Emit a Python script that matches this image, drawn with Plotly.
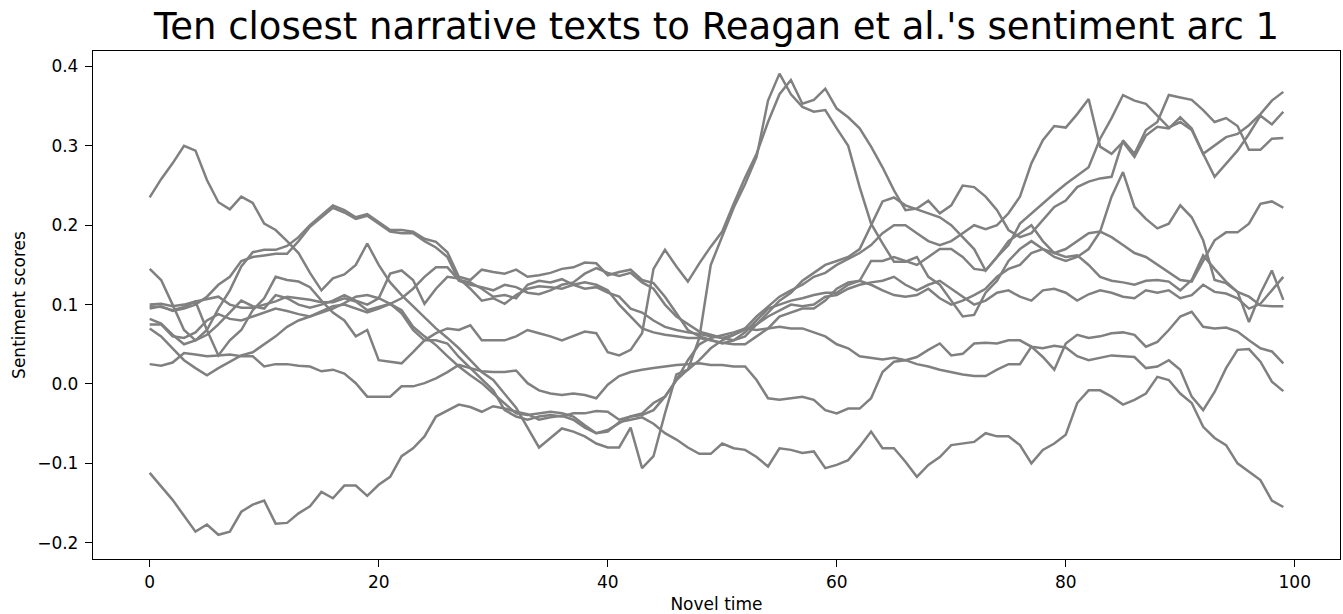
import plotly.graph_objects as go

x = list(range(100))

line1 = [0.235, 0.258, 0.278, 0.300, 0.294, 0.257, 0.229, 0.220, 0.236, 0.228,
         0.202, 0.194, 0.180, 0.165, 0.140, 0.118, 0.133, 0.138, 0.150, 0.177,
         0.150, 0.128, 0.112, 0.098, 0.085, 0.070, 0.058, 0.045, 0.030, 0.015,
         0.005, -0.012, -0.030, -0.055, -0.080, -0.068, -0.056, -0.060, -0.066, -0.075,
         -0.080, -0.080, -0.055, -0.106, -0.091, -0.037, 0.012, 0.018, 0.058, 0.150,
         0.185, 0.222, 0.252, 0.286, 0.357, 0.391, 0.365, 0.349, 0.343, 0.345,
         0.322, 0.300, 0.248, 0.202, 0.177, 0.154, 0.154, 0.160, 0.135, 0.125,
         0.105, 0.085, 0.087, 0.115, 0.130, 0.155, 0.170, 0.180, 0.170, 0.160,
         0.155, 0.160, 0.170, 0.192, 0.236, 0.267, 0.223, 0.208, 0.196, 0.202,
         0.225, 0.210, 0.181, 0.131, 0.127, 0.116, 0.110, 0.099, 0.098, 0.098]

line2 = [0.145, 0.131, 0.100, 0.068, 0.055, 0.068, 0.095, 0.118, 0.148, 0.166,
         0.169, 0.169, 0.174, 0.185, 0.200, 0.213, 0.225, 0.219, 0.210, 0.214,
         0.204, 0.194, 0.194, 0.192, 0.183, 0.179, 0.166, 0.135, 0.131, 0.144,
         0.141, 0.139, 0.144, 0.135, 0.137, 0.140, 0.145, 0.147, 0.153, 0.152,
         0.137, 0.141, 0.144, 0.131, 0.127, 0.110, 0.089, 0.068, 0.060, 0.055,
         0.051, 0.055, 0.065, 0.080, 0.095, 0.100, 0.105, 0.108, 0.112, 0.115,
         0.115, 0.125, 0.130, 0.155, 0.155, 0.160, 0.155, 0.150, 0.160, 0.170,
         0.170, 0.160, 0.145, 0.143, 0.160, 0.175, 0.202, 0.215, 0.227, 0.240,
         0.252, 0.263, 0.273, 0.309, 0.335, 0.364, 0.357, 0.353, 0.338, 0.323,
         0.330, 0.320, 0.290, 0.301, 0.311, 0.315, 0.326, 0.340, 0.357, 0.368]

line3 = [0.095, 0.098, 0.092, 0.095, 0.100, 0.110, 0.125, 0.135, 0.155, 0.160,
         0.162, 0.164, 0.164, 0.180, 0.198, 0.210, 0.222, 0.216, 0.208, 0.212,
         0.202, 0.192, 0.190, 0.190, 0.180, 0.172, 0.160, 0.130, 0.125, 0.122,
         0.118, 0.125, 0.122, 0.115, 0.113, 0.118, 0.125, 0.128, 0.139, 0.146,
         0.140, 0.136, 0.140, 0.128, 0.120, 0.100, 0.085, 0.075, 0.066, 0.062,
         0.058, 0.062, 0.070, 0.085, 0.098, 0.110, 0.118, 0.125, 0.135, 0.140,
         0.150, 0.158, 0.165, 0.175, 0.190, 0.200, 0.200, 0.190, 0.180, 0.175,
         0.180, 0.190, 0.200, 0.195, 0.200, 0.215, 0.236, 0.278, 0.307, 0.325,
         0.323, 0.340, 0.359, 0.299, 0.290, 0.305, 0.286, 0.313, 0.324, 0.322,
         0.336, 0.322, 0.290, 0.261, 0.278, 0.294, 0.315, 0.338, 0.327, 0.343]

line4 = [0.098, 0.097, 0.093, 0.097, 0.104, 0.068, 0.036, 0.055, 0.068, 0.093,
         0.108, 0.135, 0.131, 0.129, 0.122, 0.105, 0.090, 0.080, 0.060, 0.068,
         0.030, 0.028, 0.026, 0.040, 0.055, 0.064, 0.070, 0.068, 0.074, 0.055,
         0.055, 0.055, 0.060, 0.068, 0.064, 0.060, 0.055, 0.060, 0.066, 0.064,
         0.040, 0.036, 0.043, 0.064, 0.145, 0.169, 0.148, 0.129, 0.152, 0.173,
         0.192, 0.227, 0.260, 0.290, 0.330, 0.365, 0.383, 0.353, 0.358, 0.372,
         0.347, 0.336, 0.322, 0.299, 0.273, 0.244, 0.219, 0.221, 0.231, 0.215,
         0.225, 0.250, 0.248, 0.236, 0.219, 0.194, 0.185, 0.190, 0.206, 0.223,
         0.231, 0.248, 0.255, 0.259, 0.261, 0.307, 0.290, 0.320, 0.330, 0.364,
         0.361, 0.358, 0.345, 0.330, 0.335, 0.325, 0.295, 0.295, 0.309, 0.310]

line5 = [0.100, 0.101, 0.098, 0.100, 0.104, 0.107, 0.110, 0.100, 0.096, 0.096,
         0.100, 0.104, 0.110, 0.108, 0.106, 0.103, 0.103, 0.108, 0.104, 0.093,
         0.097, 0.101, 0.108, 0.120, 0.135, 0.147, 0.147, 0.131, 0.128, 0.120,
         0.110, 0.112, 0.108, 0.125, 0.130, 0.128, 0.132, 0.125, 0.120, 0.122,
         0.115, 0.110, 0.095, 0.090, 0.080, 0.072, 0.068, 0.065, 0.063, 0.060,
         0.058, 0.055, 0.060, 0.075, 0.085, 0.092, 0.100, 0.098, 0.100, 0.110,
         0.112, 0.120, 0.125, 0.128, 0.130, 0.135, 0.125, 0.118, 0.125, 0.130,
         0.120, 0.110, 0.100, 0.105, 0.115, 0.118, 0.110, 0.105, 0.118, 0.120,
         0.115, 0.105, 0.113, 0.118, 0.115, 0.110, 0.108, 0.118, 0.115, 0.118,
         0.108, 0.112, 0.125, 0.116, 0.114, 0.108, 0.095, 0.101, 0.118, 0.135]

line6 = [0.082, 0.076, 0.062, 0.050, 0.055, 0.062, 0.075, 0.090, 0.105, 0.098,
         0.095, 0.112, 0.108, 0.100, 0.096, 0.100, 0.105, 0.112, 0.105, 0.100,
         0.108, 0.139, 0.143, 0.131, 0.101, 0.120, 0.135, 0.133, 0.120, 0.105,
         0.108, 0.101, 0.112, 0.120, 0.123, 0.122, 0.120, 0.125, 0.128, 0.125,
         0.118, 0.100, 0.085, 0.070, 0.065, 0.062, 0.060, 0.058, 0.058, 0.055,
         0.052, 0.050, 0.050, 0.060, 0.070, 0.085, 0.090, 0.095, 0.095, 0.105,
         0.120, 0.128, 0.130, 0.125, 0.118, 0.112, 0.110, 0.112, 0.120, 0.108,
         0.100, 0.105, 0.112, 0.120, 0.135, 0.145, 0.150, 0.165, 0.170, 0.165,
         0.160, 0.162, 0.150, 0.135, 0.130, 0.128, 0.125, 0.130, 0.131, 0.129,
         0.118, 0.131, 0.162, 0.145, 0.129, 0.116, 0.078, 0.114, 0.143, 0.106]

line7 = [0.075, 0.075, 0.060, 0.058, 0.065, 0.080, 0.088, 0.082, 0.080, 0.085,
         0.090, 0.095, 0.092, 0.088, 0.085, 0.092, 0.098, 0.100, 0.095, 0.090,
         0.095, 0.101, 0.093, 0.072, 0.060, 0.049, 0.035, 0.022, 0.011, 0.001,
         -0.012, -0.024, -0.037, -0.039, -0.037, -0.035, -0.037, -0.041, -0.052, -0.062,
         -0.058, -0.050, -0.041, -0.037, -0.024, -0.016, 0.005, 0.018, 0.030, 0.045,
         0.055, 0.062, 0.068, 0.075, 0.090, 0.105, 0.115, 0.130, 0.140, 0.150,
         0.155, 0.160, 0.170, 0.200, 0.230, 0.235, 0.225, 0.220, 0.215, 0.210,
         0.200, 0.185, 0.170, 0.143, 0.160, 0.180, 0.190, 0.200, 0.180, 0.165,
         0.170, 0.180, 0.190, 0.192, 0.185, 0.175, 0.165, 0.160, 0.150, 0.140,
         0.131, 0.129, 0.155, 0.181, 0.191, 0.191, 0.202, 0.227, 0.230, 0.222]

line8 = [0.070, 0.060, 0.045, 0.030, 0.020, 0.011, 0.020, 0.028, 0.036, 0.040,
         0.050, 0.060, 0.072, 0.080, 0.085, 0.090, 0.095, 0.102, 0.110, 0.112,
         0.108, 0.101, 0.089, 0.068, 0.055, 0.055, 0.051, 0.034, 0.020, 0.007,
         -0.008, -0.033, -0.041, -0.045, -0.041, -0.039, -0.041, -0.037, -0.037, -0.034,
         -0.035, -0.045, -0.041, -0.039, -0.033, -0.016, 0.005, 0.030, 0.050, 0.058,
         0.062, 0.065, 0.070, 0.068, 0.070, 0.072, 0.070, 0.070, 0.065, 0.060,
         0.050, 0.045, 0.035, 0.033, 0.031, 0.033, 0.030, 0.025, 0.022, 0.018,
         0.015, 0.012, 0.010, 0.010, 0.018, 0.025, 0.025, 0.047, 0.034, 0.018,
         0.051, 0.062, 0.058, 0.060, 0.064, 0.065, 0.062, 0.047, 0.053, 0.068,
         0.085, 0.091, 0.072, 0.070, 0.071, 0.066, 0.055, 0.045, 0.041, 0.026]

line9 = [0.025, 0.023, 0.027, 0.039, 0.037, 0.035, 0.036, 0.037, 0.035, 0.035,
         0.022, 0.025, 0.025, 0.023, 0.022, 0.016, 0.018, 0.013, 0.001, -0.016,
         -0.016, -0.016, -0.003, -0.003, 0.001, 0.007, 0.015, 0.024, 0.020, 0.016,
         0.015, 0.015, 0.017, 0.001, -0.008, -0.012, -0.014, -0.012, -0.014, -0.018,
         -0.001, 0.010, 0.015, 0.018, 0.020, 0.022, 0.024, 0.025, 0.026, 0.024,
         0.024, 0.022, 0.022, 0.005, -0.018, -0.020, -0.018, -0.016, -0.020, -0.033,
         -0.037, -0.031, -0.031, -0.018, 0.015, 0.028, 0.030, 0.034, 0.043, 0.051,
         0.036, 0.038, 0.051, 0.052, 0.051, 0.055, 0.055, 0.047, 0.045, 0.048,
         0.046, 0.035, 0.030, 0.033, 0.036, 0.035, 0.034, 0.020, 0.022, 0.030,
         0.018, -0.016, -0.033, -0.010, 0.020, 0.043, 0.044, 0.028, 0.003, -0.009]

line10 = [-0.112, -0.129, -0.146, -0.166, -0.186, -0.177, -0.190, -0.186, -0.161, -0.152,
          -0.147, -0.176, -0.175, -0.163, -0.154, -0.136, -0.144, -0.128, -0.128, -0.141,
          -0.127, -0.117, -0.091, -0.081, -0.066, -0.041, -0.034, -0.026, -0.029, -0.035,
          -0.028, -0.031, -0.035, -0.038, -0.045, -0.042, -0.040, -0.045, -0.055, -0.062,
          -0.060, -0.048, -0.045, -0.042, -0.050, -0.062, -0.070, -0.080, -0.088, -0.088,
          -0.075, -0.081, -0.083, -0.092, -0.104, -0.081, -0.083, -0.087, -0.085, -0.106,
          -0.102, -0.096, -0.079, -0.060, -0.081, -0.081, -0.098, -0.117, -0.102, -0.092,
          -0.077, -0.075, -0.073, -0.062, -0.066, -0.066, -0.077, -0.100, -0.083, -0.075,
          -0.064, -0.024, -0.008, -0.008, -0.016, -0.026, -0.020, -0.012, 0.009, 0.005,
          -0.012, -0.024, -0.054, -0.068, -0.077, -0.100, -0.110, -0.121, -0.147, -0.155]

series = [line1, line2, line3, line4, line5, line6, line7, line8, line9, line10]

x_ticks = [0, 20, 40, 60, 80, 100]
y_ticks = [-0.2, -0.1, 0.0, 0.1, 0.2, 0.3, 0.4]
y_tick_text = ["\u22120.2", "\u22120.1", "0.0", "0.1", "0.2", "0.3", "0.4"]

fig = go.Figure()
for s in series:
    fig.add_trace(go.Scatter(x=x, y=s, mode="lines",
                             line=dict(color="#808080", width=2.5),
                             showlegend=False, hoverinfo="skip"))

font_family = "DejaVu Sans, sans-serif"
fig.update_layout(
    width=1343, height=614,
    margin=dict(l=93, r=3, t=51, b=55),
    paper_bgcolor="white", plot_bgcolor="white",
    font=dict(family=font_family, color="black", size=17),
    title=dict(text="Ten closest narrative texts to Reagan et al.'s sentiment arc 1",
               x=0.5, xref="paper", xanchor="center",
               y=0.957, yref="container", yanchor="middle",
               font=dict(size=37, family=font_family, color="black")),
)
fig.update_xaxes(range=[-4.95, 103.95], tickvals=x_ticks,
                 ticks="outside", ticklen=7, tickwidth=1.3, tickcolor="black",
                 showline=True, linecolor="black", linewidth=1.3, mirror=True,
                 showgrid=False, zeroline=False,
                 tickfont=dict(size=17),
                 title=dict(text="Novel time", font=dict(size=17), standoff=7))
fig.update_yaxes(range=[-0.2205, 0.4195], tickvals=y_ticks, ticktext=y_tick_text,
                 ticks="outside", ticklen=7, tickwidth=1.3, tickcolor="black",
                 showline=True, linecolor="black", linewidth=1.3, mirror=True,
                 showgrid=False, zeroline=False,
                 tickfont=dict(size=17), ticklabelstandoff=3,
                 title=dict(text="Sentiment scores", font=dict(size=17), standoff=7))

fig.write_html("out.html")
